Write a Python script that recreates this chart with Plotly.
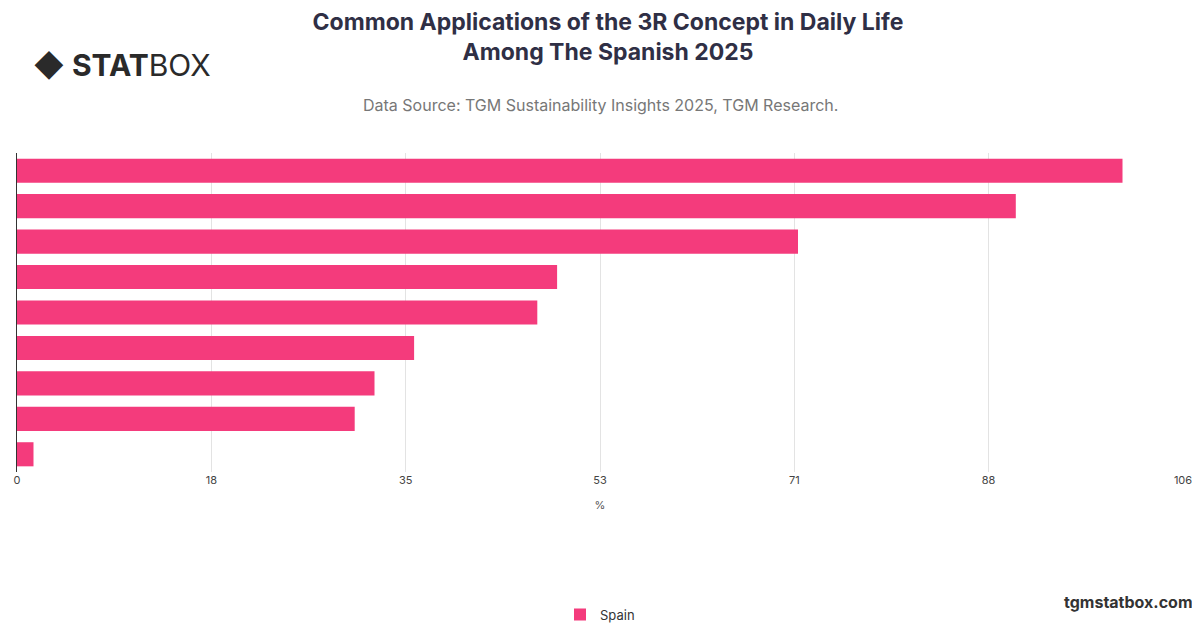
import plotly.graph_objects as go

categories = ["Item 1", "Item 2", "Item 3", "Item 4", "Item 5", "Item 6", "Item 7", "Item 8", "Item 9"]
values = [100.5, 90.8, 71.0, 49.1, 47.3, 36.1, 32.5, 30.7, 1.5]
tick_vals = [0, 17.67, 35.33, 53, 70.67, 88.33, 106]
tick_text = ["0", "18", "35", "53", "71", "88", "106"]

fig = go.Figure(go.Bar(
    x=values,
    y=categories,
    orientation="h",
    name="Spain",
    marker=dict(color="#f43b7c", line=dict(width=0)),
    width=0.68,
    showlegend=True,
))

fig.update_layout(
    width=1200, height=628,
    paper_bgcolor="white", plot_bgcolor="white",
    margin=dict(l=6, r=25, t=145, b=160),
    font=dict(family="Inter, Roboto, sans-serif", color="#555"),
    title=dict(
        text="<b>Common Applications of the 3R Concept in Daily Life<br>Among The Spanish 2025</b>",
        x=0.5, xanchor="center", y=0.965, yanchor="top",
        font=dict(size=23, color="#2f2f45"),
    ),
    xaxis=dict(
        range=[0, 106], tickvals=tick_vals, ticktext=tick_text,
        showgrid=True, gridcolor="#e3e3e3", zeroline=False,
        tickfont=dict(size=11, color="#444"),
        title=dict(text="%", font=dict(size=11, color="#555")),
    ),
    yaxis=dict(
        autorange="reversed", showticklabels=False, showgrid=False,
        showline=True, linecolor="#333", linewidth=1,
    ),
    bargap=0.3,
    legend=dict(orientation="h", x=0.5, xanchor="center", y=-0.4, yanchor="top",
                font=dict(size=13, color="#333")),
)

fig.add_annotation(text="Data Source: TGM Sustainability Insights 2025, TGM Research.",
                   xref="paper", yref="paper", x=0.5, y=1.0, yshift=60,
                   showarrow=False, font=dict(size=16, color="#777"))
fig.add_annotation(text="<b>◆ STAT</b>BOX", xref="paper", yref="paper",
                   x=0.012, xanchor="left", y=1.0, yshift=108,
                   showarrow=False, font=dict(size=30, color="#2a2a2a"))
fig.add_annotation(text="<b>tgmstatbox.com</b>", xref="paper", yref="paper",
                   x=1.01, xanchor="right", y=-0.37, yanchor="top",
                   showarrow=False, font=dict(size=16, color="#333"))

fig.write_html("out.html")
